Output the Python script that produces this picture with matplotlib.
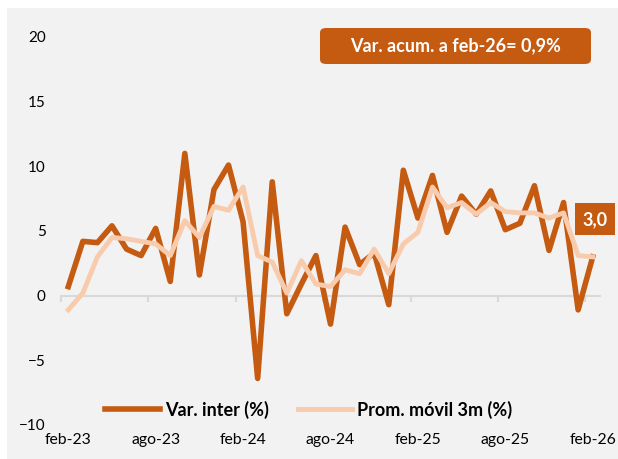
import matplotlib.pyplot as plt
from matplotlib.patches import Rectangle, FancyBboxPatch

plt.rcParams['font.family'] = ['Lato', 'DejaVu Sans']

# monthly data feb-23 .. feb-26
months = ['feb-23', 'mar-23', 'abr-23', 'may-23', 'jun-23', 'jul-23', 'ago-23', 'sep-23', 'oct-23',
          'nov-23', 'dic-23', 'ene-24', 'feb-24', 'mar-24', 'abr-24', 'may-24', 'jun-24', 'jul-24',
          'ago-24', 'sep-24', 'oct-24', 'nov-24', 'dic-24', 'ene-25', 'feb-25', 'mar-25', 'abr-25',
          'may-25', 'jun-25', 'jul-25', 'ago-25', 'sep-25', 'oct-25', 'nov-25', 'dic-25', 'ene-26',
          'feb-26']
var_inter = [0.7, 4.2, 4.1, 5.4, 3.6, 3.1, 5.2, 1.1, 11.0,
             1.6, 8.2, 10.1, 5.7, -6.4, 8.8, -1.4, 0.9, 3.1,
             -2.2, 5.3, 2.4, 3.3, -0.7, 9.7, 6.0, 9.3, 4.9,
             7.7, 6.3, 8.1, 5.1, 5.6, 8.5, 3.5, 7.2, -1.1,
             3.0]
prom_movil = [-1.1, 0.2, 3.0, 4.5, 4.4, 4.2, 4.0, 3.1, 5.8,
              4.5, 6.9, 6.6, 8.4, 3.1, 2.6, 0.2, 2.7, 0.9,
              0.7, 2.0, 1.7, 3.6, 1.7, 4.0, 4.9, 8.4, 6.8,
              7.2, 6.3, 7.2, 6.5, 6.4, 6.4, 6.0, 6.4, 3.1,
              3.0]
acum_text = 'Var. acum. a feb-26= 0,9%'

dark = '#C55A11'
light = '#F8CBAD'
bg = '#F2F2F2'

fig = plt.figure(figsize=(6.18, 4.59), dpi=100, facecolor='white')
fig.patches.append(Rectangle((7 / 618, 0), 1, 451 / 459, transform=fig.transFigure,
                             facecolor=bg, edgecolor='none', zorder=-10))
ax = fig.add_axes([61 / 618, 34 / 459, 539 / 618, 388 / 459])
ax.set_facecolor('none')

x = list(range(len(months)))
ax.plot(x, var_inter, color=dark, lw=4.0, label='Var. inter (%)', zorder=3)
ax.plot(x, prom_movil, color=light, lw=3.5, label='Prom. móvil 3m (%)', zorder=4)

ax.set_xlim(-0.5, len(months) - 0.5)
ax.set_ylim(-10, 20)
ax.set_yticks(range(-10, 21, 5))
ax.tick_params(axis='y', length=0, pad=11, labelsize=11)

for s in ['left', 'right', 'top']:
    ax.spines[s].set_visible(False)
ax.spines['bottom'].set_position(('data', 0))
ax.spines['bottom'].set_color('#D9D9D9')
ax.spines['bottom'].set_linewidth(1.5)
ax.set_xticks([i - 0.5 for i in x[::6]])
ax.set_xticklabels([])
ax.tick_params(axis='x', length=4, width=1.5, color='#D9D9D9', direction='out')

sec = ax.secondary_xaxis('bottom')
sec.set_xticks(x[::6], labels=months[::6])
sec.tick_params(length=0, pad=6, labelsize=11.3)
sec.spines['bottom'].set_visible(False)

ax.legend(loc='center', bbox_to_anchor=((309 - 61) / 539, 0.04), ncol=2, frameon=False,
          handlelength=3.0, handletextpad=0.3, columnspacing=1.6,
          prop={'weight': 'bold', 'size': 13})

fig.patches.append(FancyBboxPatch((320 / 618, (459 - 64) / 459), 271 / 618, 36 / 459,
                                  boxstyle='round,pad=0,rounding_size=0.01',
                                  transform=fig.transFigure, facecolor=dark,
                                  edgecolor='none', zorder=5))
fig.text(455.5 / 618, (459 - 46) / 459, acum_text, color='white', fontsize=13,
         fontweight='bold', ha='center', va='center', zorder=6)

ax.annotate(f'{var_inter[-1]:.1f}'.replace('.', ','), xy=(x[-1], var_inter[-1]),
            xytext=(1.5, 27), textcoords='offset points', ha='center', va='center',
            color='white', fontsize=13, fontweight='bold',
            bbox=dict(boxstyle='square,pad=0.42', facecolor=dark, edgecolor='none'),
            annotation_clip=False, zorder=6)

fig.savefig('out.png', dpi=100, facecolor='white')
